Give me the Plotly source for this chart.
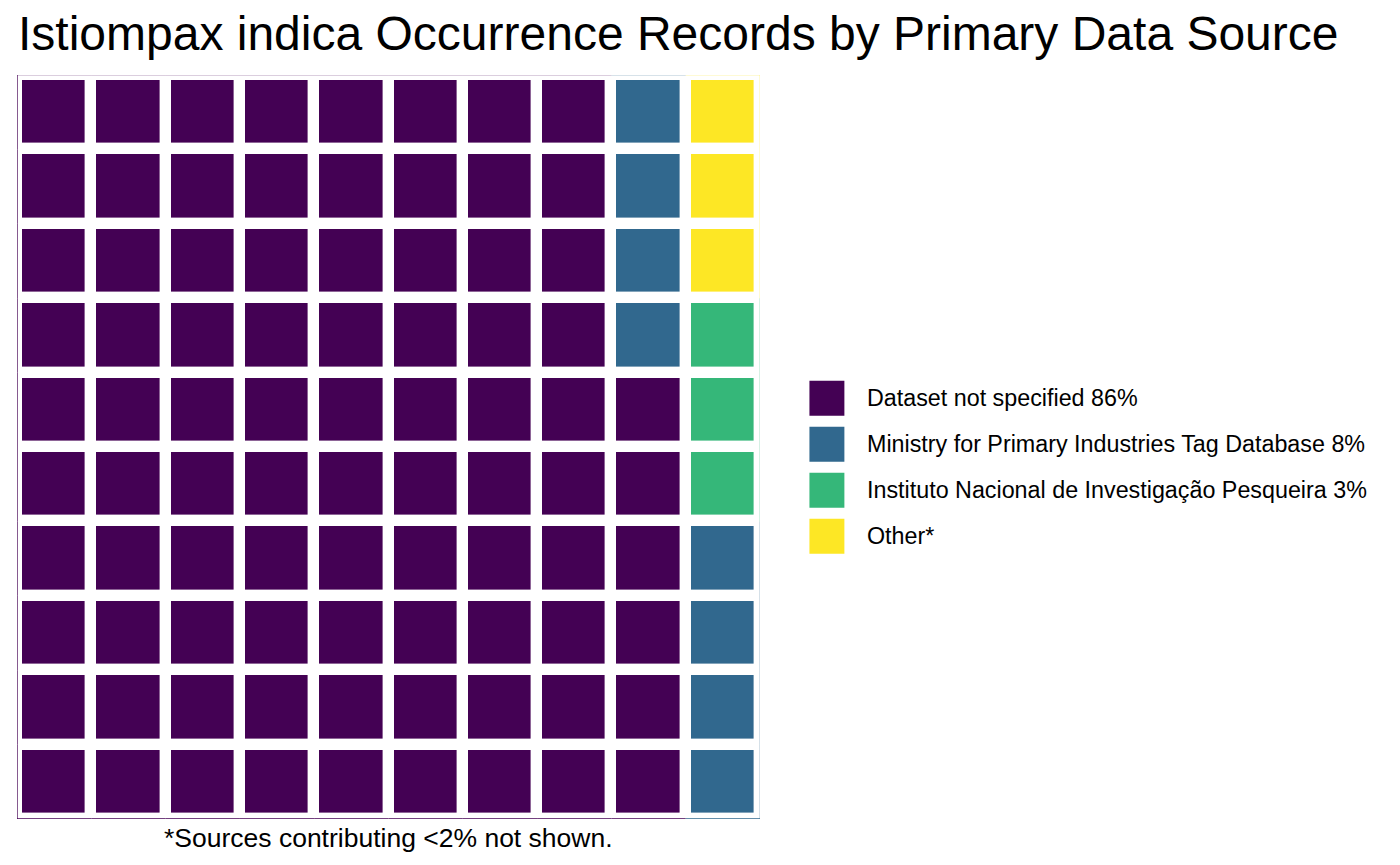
import plotly.graph_objects as go

# ---- data ----
categories = ["Dataset not specified", "Ministry for Primary Industries Tag Database",
              "Instituto Nacional de Investigação Pesqueira", "Other"]
counts = [86, 8, 3, 3]
legend_labels = ["Dataset not specified 86%", "Ministry for Primary Industries Tag Database 8%",
                 "Instituto Nacional de Investigação Pesqueira 3%", "Other*"]
colors = ["#440154", "#31688E", "#35B779", "#FDE725"]
n_rows, n_cols = 10, 10
title_text = "Istiompax indica Occurrence Records by Primary Data Source"
caption_text = "*Sources contributing <2% not shown."

# ---- build waffle grid (column-wise, bottom to top) ----
cells = []
for i, c in enumerate(counts):
    cells += [i] * c
z = [[None] * n_cols for _ in range(n_rows)]
for k, v in enumerate(cells):
    col, row = divmod(k, n_rows)
    z[row][col] = v

ncat = len(categories)
cs = []
for i, col in enumerate(colors):
    cs.append([i / ncat, col])
    cs.append([(i + 1) / ncat, col])

W, H = 1400, 865
L, R_px, T, B_px = 16.5, 760.5, 75.3, 819.3
pw, ph = R_px - L, B_px - T

fig = go.Figure()
fig.add_trace(go.Heatmap(
    z=z, x=list(range(n_cols)), y=list(range(n_rows)),
    zmin=-0.5, zmax=ncat - 0.5, colorscale=cs, showscale=False,
    xgap=11.4, ygap=11.4, hoverinfo="skip"))

shapes = []
# panel border tinted by adjacent tiles
for c in range(n_cols):
    shapes.append(dict(type="line", xref="x", yref="y", x0=c - 0.5, x1=c + 0.5, y0=-0.5, y1=-0.5,
                       line=dict(color=colors[z[0][c]], width=1.3)))
    shapes.append(dict(type="line", xref="x", yref="y", x0=c - 0.5, x1=c + 0.5, y0=n_rows - 0.5, y1=n_rows - 0.5,
                       line=dict(color=colors[z[n_rows - 1][c]], width=1.3), opacity=0.25))
for r in range(n_rows):
    shapes.append(dict(type="line", xref="x", yref="y", x0=-0.5, x1=-0.5, y0=r - 0.5, y1=r + 0.5,
                       line=dict(color=colors[z[r][0]], width=1.3)))
    shapes.append(dict(type="line", xref="x", yref="y", x0=n_cols - 0.5, x1=n_cols - 0.5, y0=r - 0.5, y1=r + 0.5,
                       line=dict(color=colors[z[r][n_cols - 1]], width=1.3), opacity=0.3))

def px_x(px):
    return (px - L) / pw

def px_y(py):
    return (B_px - py) / ph

annotations = []
key_x0, key_size, key_top0, key_pitch, text_x = 810, 35, 381, 46, 866
for i, lab in enumerate(legend_labels):
    top = key_top0 + i * key_pitch
    shapes.append(dict(type="rect", xref="paper", yref="paper",
                       x0=px_x(key_x0), x1=px_x(key_x0 + key_size),
                       y0=px_y(top + key_size), y1=px_y(top),
                       fillcolor=colors[i], line=dict(width=0)))
    annotations.append(dict(xref="paper", yref="paper", x=px_x(text_x), y=px_y(top + key_size / 2),
                            xanchor="left", yanchor="middle", text=lab, showarrow=False,
                            font=dict(size=23.3, color="#000000", family="Liberation Sans")))

annotations.append(dict(xref="paper", yref="paper", x=px_x((L + R_px) / 2), y=px_y(821),
                        xanchor="center", yanchor="top", text=caption_text, showarrow=False,
                        font=dict(size=26.5, color="#000000", family="Liberation Sans")))

fig.update_layout(
    width=W, height=H,
    margin=dict(l=L, r=W - R_px, t=T, b=H - B_px, pad=0),
    paper_bgcolor="white", plot_bgcolor="white",
    title=dict(text=title_text, x=18 / W, xanchor="left", y=1 - 33 / H, yanchor="middle",
               yref="container", font=dict(size=48, color="#000000", family="Liberation Sans")),
    xaxis=dict(range=[-0.5, n_cols - 0.5], visible=False, showgrid=False, zeroline=False, fixedrange=True),
    yaxis=dict(range=[-0.5, n_rows - 0.5], visible=False, showgrid=False, zeroline=False, fixedrange=True),
    shapes=shapes, annotations=annotations, showlegend=False,
)

fig.write_html("out.html", config={"displayModeBar": False},
               post_script="document.body.style.margin='0';")
